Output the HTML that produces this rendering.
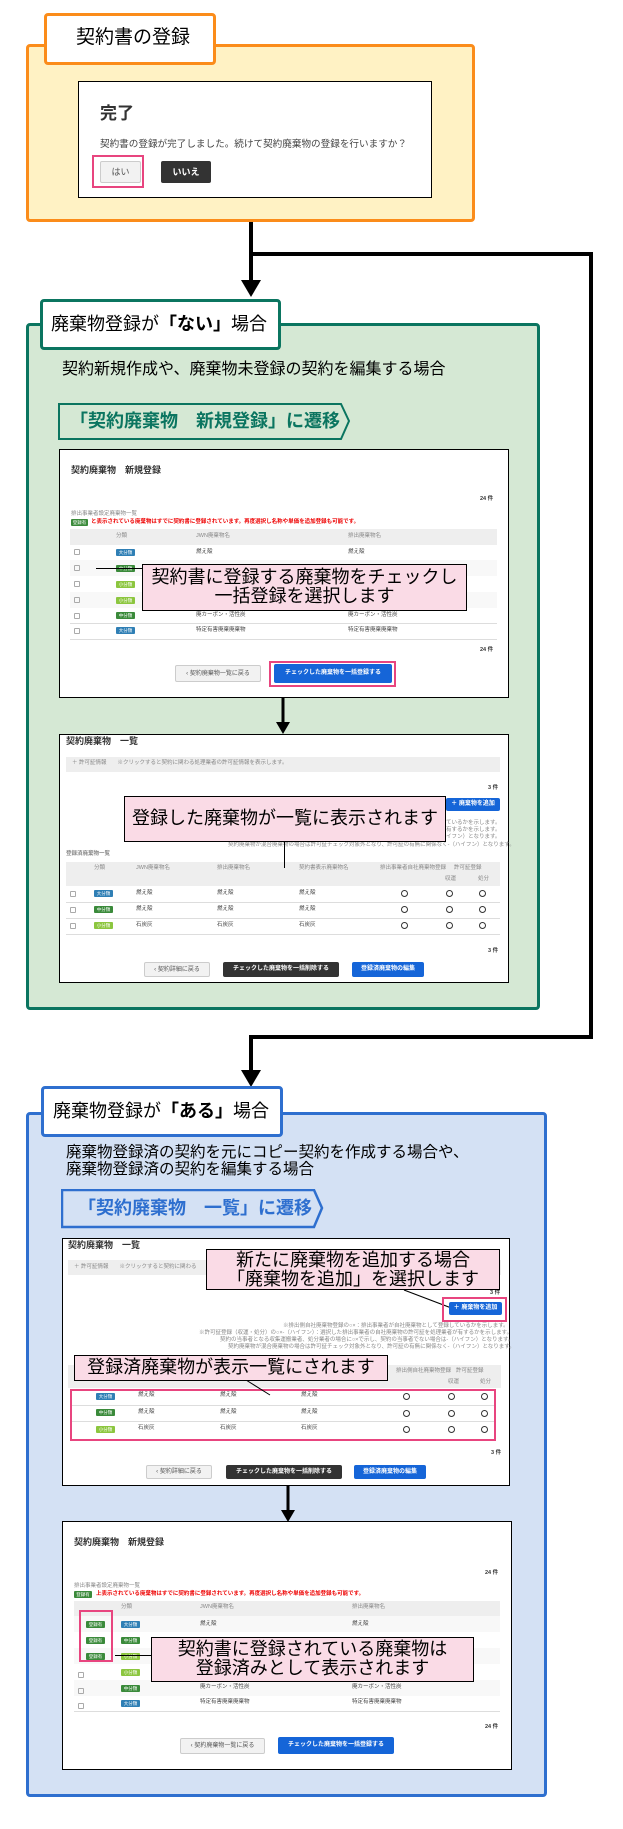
<!DOCTYPE html>
<html><head><meta charset="utf-8"><style>
*{margin:0;padding:0;box-sizing:border-box}
body{width:623px;height:1829px;background:#fff;position:relative;font-family:"Liberation Sans","Noto Sans CJK JP",sans-serif;overflow:hidden}
.a{position:absolute}
.t{position:absolute;white-space:nowrap;line-height:1}
.ss{position:absolute;background:#fff;border:1.5px solid #000}
.bdg{position:absolute;width:19px;height:7px;font-size:4.5px;color:#fff;text-align:center;line-height:7px;border-radius:1px}
.b1{background:#2f7fb5}.b2{background:#3a8a3a}.b3{background:#8cc63f}
.tiny{position:absolute;font-size:5.5px;color:#888;white-space:nowrap;line-height:1}
.call{position:absolute;background:#fadbe6;border:1.5px solid #000;text-align:center;color:#000;line-height:1.2;white-space:nowrap}
.pk{position:absolute;border:2.5px solid #e8457f}
.btnw{position:absolute;background:#f2f2f2;border:1px solid #ccc;border-radius:2px;font-size:6px;color:#555;text-align:center}
.btnb{position:absolute;background:#1565d8;border-radius:2px;font-size:6px;color:#fff;text-align:center;font-weight:bold}
.btnd{position:absolute;background:#333;border-radius:2px;font-size:6px;color:#fff;text-align:center;font-weight:bold}
.ln{position:absolute;background:#000}
.circ{position:absolute;width:7px;height:7px;border:1px solid #333;border-radius:50%}
.cb{position:absolute;width:6px;height:6px;border:1px solid #aaa;border-radius:1px}
</style></head><body>

<!-- connectors -->
<div class="ln" style="left:249px;top:222px;width:4px;height:60px"></div>
<div class="ln" style="left:251px;top:252px;width:342px;height:4px"></div>
<div class="ln" style="left:589px;top:252px;width:4px;height:787px"></div>
<div class="ln" style="left:249px;top:1035px;width:344px;height:4px"></div>
<div class="ln" style="left:249px;top:1035px;width:4px;height:36px"></div>
<svg class="a" style="left:0;top:0" width="623" height="1829">
<polygon points="241,280 261,280 251,297" fill="#000"/>
<polygon points="241,1070 261,1070 251,1087" fill="#000"/>
</svg>

<!-- ORANGE -->
<div class="a" style="left:26px;top:44px;width:449px;height:178px;background:#fff2c4;border:3.5px solid #fb8c1a;border-radius:4px"></div>
<div class="a" style="left:44px;top:13px;width:172px;height:52px;background:#fff;border:3.5px solid #fb8c1a;border-radius:4px"></div>
<div class="t" style="left:76px;top:28px;font-size:19px">契約書の登録</div>
<div class="a" style="left:78px;top:81px;width:354px;height:117px;background:#fff;border:1px solid #000"></div>
<div class="t" style="left:100px;top:105px;font-size:17px;font-weight:bold;color:#333">完了</div>
<div class="t" style="left:100px;top:140px;font-size:9.6px;color:#444">契約書の登録が完了しました。続けて契約廃棄物の登録を行いますか？</div>
<div class="pk" style="left:92px;top:155px;width:52px;height:33px"></div>
<div class="btnw" style="left:100px;top:161px;width:41px;height:22px;font-size:9px;line-height:20px">はい</div>
<div class="btnd" style="left:161px;top:161px;width:50px;height:22px;font-size:9px;line-height:22px">いいえ</div>

<!-- GREEN -->
<div class="a" style="left:26px;top:323px;width:514px;height:687px;background:#d5e8d4;border:3.5px solid #0b7560;border-radius:4px"></div>
<div class="a" style="left:40px;top:299px;width:241px;height:51px;background:#fff;border:3.5px solid #0b7560;border-radius:4px"></div>
<div class="t" style="left:51px;top:315px;font-size:18px">廃棄物登録が<b>「ない」</b>場合</div>
<div class="t" style="left:62px;top:362px;font-size:16px">契約新規作成や、廃棄物未登録の契約を編集する場合</div>
<svg class="a" style="left:58px;top:403px" width="300" height="40"><polygon points="1,1 283,1 291,18 283,36 1,36" fill="none" stroke="#0b7560" stroke-width="2"/></svg>
<div class="t" style="left:70px;top:412px;font-size:18px;font-weight:bold;color:#0b7560">「契約廃棄物　新規登録」に遷移</div>

<!-- SS1 -->
<div class="ss" style="left:59px;top:449px;width:450px;height:249px"></div>
<div class="t" style="left:71px;top:466px;font-size:9px;font-weight:bold;color:#333">契約廃棄物　新規登録</div>
<div class="tiny" style="left:480px;top:497px;color:#333;font-weight:bold">24 件</div>
<div class="tiny" style="left:71px;top:512px">排出事業者設定廃棄物一覧</div>
<div class="bdg b2" style="left:71px;top:519px;width:17px">登録有</div>
<div class="tiny" style="left:91px;top:520px;color:#e00;font-weight:bold">と表示されている廃棄物はすでに契約書に登録されています。再度選択し名称や単価を追加登録も可能です。</div>
<div class="a" style="left:70px;top:529px;width:427px;height:16px;background:#eee"></div>
<div class="tiny" style="left:116px;top:534px">分類</div><div class="tiny" style="left:196px;top:534px">JWN廃棄物名</div><div class="tiny" style="left:348px;top:534px">排出廃棄物名</div>
<div class="a" style="left:70px;top:560px;width:427px;height:16px;background:#f8f8f8"></div>
<div class="a" style="left:70px;top:592px;width:427px;height:16px;background:#f8f8f8"></div>
<div class="a" style="left:70px;top:623px;width:427px;height:1px;background:#ddd"></div>
<div class="a" style="left:70px;top:639px;width:427px;height:1px;background:#ddd"></div>
<div class="cb" style="left:74px;top:549px"></div><div class="cb" style="left:74px;top:565px"></div><div class="cb" style="left:74px;top:581px"></div><div class="cb" style="left:74px;top:597px"></div><div class="cb" style="left:74px;top:613px"></div><div class="cb" style="left:74px;top:628px"></div>
<div class="bdg b1" style="left:116px;top:549px">大分類</div><div class="bdg b2" style="left:116px;top:565px">中分類</div><div class="bdg b3" style="left:116px;top:581px">小分類</div><div class="bdg b3" style="left:116px;top:597px">小分類</div><div class="bdg b2" style="left:116px;top:612px">中分類</div><div class="bdg b1" style="left:116px;top:627px">大分類</div>
<div class="tiny" style="left:196px;top:550px;color:#444">燃え殻</div><div class="tiny" style="left:348px;top:550px;color:#444">燃え殻</div>
<div class="tiny" style="left:196px;top:613px;color:#444">廃カーボン・活性炭</div><div class="tiny" style="left:348px;top:613px;color:#444">廃カーボン・活性炭</div>
<div class="tiny" style="left:196px;top:628px;color:#444">特定有害廃棄廃棄物</div><div class="tiny" style="left:348px;top:628px;color:#444">特定有害廃棄廃棄物</div>
<div class="ln" style="left:96px;top:568px;width:46px;height:1px"></div>
<div class="call" style="left:142px;top:564px;width:325px;height:47px;font-size:18px;padding-top:3px;line-height:19px">契約書に登録する廃棄物をチェックし<br>一括登録を選択します</div>
<div class="tiny" style="left:480px;top:648px;color:#333;font-weight:bold">24 件</div>
<div class="btnw" style="left:175px;top:665px;width:86px;height:17px;line-height:16px">‹ 契約廃棄物一覧に戻る</div>
<div class="pk" style="left:269px;top:661px;width:127px;height:26px"></div>
<div class="btnb" style="left:274px;top:664px;width:118px;height:19px;line-height:19px">チェックした廃棄物を一括登録する</div>

<!-- SS2 -->
<div class="ss" style="left:59px;top:734px;width:450px;height:249px"></div>
<div class="t" style="left:66px;top:737px;font-size:9px;font-weight:bold;color:#333">契約廃棄物　一覧</div>
<div class="a" style="left:66px;top:757px;width:434px;height:15px;background:#eee"></div>
<div class="tiny" style="left:72px;top:761px">＋ 許可証情報　　※クリックすると契約に関わる処理業者の許可証情報を表示します。</div>
<div class="tiny" style="left:488px;top:786px;color:#333;font-weight:bold">3 件</div>
<div class="btnb" style="left:446px;top:798px;width:54px;height:13px;line-height:13px">＋ 廃棄物を追加</div>
<div class="tiny" style="left:446px;top:821px">ているかを示します。</div>
<div class="tiny" style="left:446px;top:828px">有するかを示します。</div>
<div class="tiny" style="left:446px;top:835px">イフン）となります。</div>
<div class="tiny" style="left:228px;top:843px">契約廃棄物が混合廃棄物の場合は許可証チェック対象外となり、許可証の有無に関係なく-（ハイフン）となります。</div>
<div class="tiny" style="left:66px;top:852px;font-weight:bold">登録済廃棄物一覧</div>
<div class="a" style="left:66px;top:862px;width:434px;height:24px;background:#eee"></div>
<div class="tiny" style="left:94px;top:866px">分類</div><div class="tiny" style="left:136px;top:866px">JWN廃棄物名</div><div class="tiny" style="left:217px;top:866px">排出廃棄物名</div><div class="tiny" style="left:299px;top:866px">契約書表示廃棄物名</div><div class="tiny" style="left:380px;top:866px">排出事業者自社廃棄物登録</div><div class="tiny" style="left:454px;top:866px">許可証登録</div><div class="tiny" style="left:445px;top:877px">収運</div><div class="tiny" style="left:478px;top:877px">処分</div>
<div class="a" style="left:66px;top:902px;width:434px;height:1px;background:#ddd"></div><div class="a" style="left:66px;top:918px;width:434px;height:1px;background:#ddd"></div><div class="a" style="left:66px;top:934px;width:434px;height:1px;background:#ddd"></div>
<div class="cb" style="left:70px;top:891px"></div><div class="cb" style="left:70px;top:907px"></div><div class="cb" style="left:70px;top:923px"></div>
<div class="bdg b1" style="left:94px;top:890px">大分類</div><div class="bdg b2" style="left:94px;top:906px">中分類</div><div class="bdg b3" style="left:94px;top:922px">小分類</div>
<div class="tiny" style="left:136px;top:891px;color:#444">燃え殻</div><div class="tiny" style="left:217px;top:891px;color:#444">燃え殻</div><div class="tiny" style="left:299px;top:891px;color:#444">燃え殻</div>
<div class="tiny" style="left:136px;top:907px;color:#444">燃え殻</div><div class="tiny" style="left:217px;top:907px;color:#444">燃え殻</div><div class="tiny" style="left:299px;top:907px;color:#444">燃え殻</div>
<div class="tiny" style="left:136px;top:923px;color:#444">石炭灰</div><div class="tiny" style="left:217px;top:923px;color:#444">石炭灰</div><div class="tiny" style="left:299px;top:923px;color:#444">石炭灰</div>
<div class="circ" style="left:401px;top:890px"></div><div class="circ" style="left:446px;top:890px"></div><div class="circ" style="left:479px;top:890px"></div>
<div class="circ" style="left:401px;top:906px"></div><div class="circ" style="left:446px;top:906px"></div><div class="circ" style="left:479px;top:906px"></div>
<div class="circ" style="left:401px;top:922px"></div><div class="circ" style="left:446px;top:922px"></div><div class="circ" style="left:479px;top:922px"></div>
<div class="ln" style="left:284px;top:842px;width:1px;height:26px"></div>
<div class="call" style="left:124px;top:796px;width:322px;height:46px;font-size:18px;line-height:42px">登録した廃棄物が一覧に表示されます</div>
<div class="tiny" style="left:488px;top:949px;color:#333;font-weight:bold">3 件</div>
<div class="btnw" style="left:144px;top:962px;width:66px;height:15px;line-height:14px">‹ 契約詳細に戻る</div>
<div class="btnd" style="left:223px;top:962px;width:116px;height:15px;line-height:15px">チェックした廃棄物を一括削除する</div>
<div class="btnb" style="left:352px;top:962px;width:72px;height:15px;line-height:15px">登録済廃棄物の編集</div>

<!-- BLUE -->
<div class="a" style="left:26px;top:1112px;width:521px;height:685px;background:#d4e1f4;border:3.5px solid #2e6fcf;border-radius:4px"></div>
<div class="a" style="left:41px;top:1086px;width:242px;height:51px;background:#fff;border:3.5px solid #2e6fcf;border-radius:4px"></div>
<div class="t" style="left:53px;top:1102px;font-size:18px">廃棄物登録が<b>「ある」</b>場合</div>
<div class="t" style="left:66px;top:1144px;font-size:15.5px;line-height:17px">廃棄物登録済の契約を元にコピー契約を作成する場合や、<br>廃棄物登録済の契約を編集する場合</div>
<svg class="a" style="left:61px;top:1189px" width="275" height="42"><polygon points="1,1 253,1 261,19 253,38 1,38" fill="none" stroke="#2e6fcf" stroke-width="2.5"/></svg>
<div class="t" style="left:78px;top:1199px;font-size:18px;font-weight:bold;color:#2e6fcf">「契約廃棄物　一覧」に遷移</div>

<!-- SS3 -->
<div class="ss" style="left:62px;top:1238px;width:448px;height:248px"></div>
<div class="t" style="left:68px;top:1241px;font-size:9px;font-weight:bold;color:#333">契約廃棄物　一覧</div>
<div class="a" style="left:68px;top:1260px;width:433px;height:15px;background:#eee"></div>
<div class="tiny" style="left:74px;top:1265px">＋ 許可証情報　　※クリックすると契約に関わる</div>
<div class="tiny" style="left:490px;top:1291px;color:#333;font-weight:bold">3 件</div>
<div class="tiny" style="left:283px;top:1324px">※排出側自社廃棄物登録の○×：排出事業者が自社廃棄物として登録しているかを示します。</div>
<div class="tiny" style="left:199px;top:1331px">※許可証登録（収運・処分）の○×-（ハイフン）：選択した排出事業者の自社廃棄物の許可証を処理業者が有するかを示します。</div>
<div class="tiny" style="left:220px;top:1338px">契約の当事者となる収集運搬業者、処分業者の場合に○×で示し、契約の当事者でない場合は-（ハイフン）となります。</div>
<div class="tiny" style="left:228px;top:1345px">契約廃棄物が混合廃棄物の場合は許可証チェック対象外となり、許可証の有無に関係なく-（ハイフン）となります。</div>
<div class="a" style="left:68px;top:1365px;width:433px;height:23px;background:#eee"></div>
<div class="tiny" style="left:396px;top:1369px">排出側自社廃棄物登録</div><div class="tiny" style="left:456px;top:1369px">許可証登録</div><div class="tiny" style="left:448px;top:1380px">収運</div><div class="tiny" style="left:480px;top:1380px">処分</div>
<div class="a" style="left:70px;top:1405px;width:425px;height:1px;background:#ddd"></div><div class="a" style="left:70px;top:1421px;width:425px;height:1px;background:#ddd"></div>
<div class="bdg b1" style="left:96px;top:1393px">大分類</div><div class="bdg b2" style="left:96px;top:1409px">中分類</div><div class="bdg b3" style="left:96px;top:1426px">小分類</div>
<div class="tiny" style="left:138px;top:1393px;color:#444">燃え殻</div><div class="tiny" style="left:220px;top:1393px;color:#444">燃え殻</div><div class="tiny" style="left:301px;top:1393px;color:#444">燃え殻</div>
<div class="tiny" style="left:138px;top:1410px;color:#444">燃え殻</div><div class="tiny" style="left:220px;top:1410px;color:#444">燃え殻</div><div class="tiny" style="left:301px;top:1410px;color:#444">燃え殻</div>
<div class="tiny" style="left:138px;top:1426px;color:#444">石炭灰</div><div class="tiny" style="left:220px;top:1426px;color:#444">石炭灰</div><div class="tiny" style="left:301px;top:1426px;color:#444">石炭灰</div>
<div class="circ" style="left:403px;top:1393px"></div><div class="circ" style="left:448px;top:1393px"></div><div class="circ" style="left:481px;top:1393px"></div>
<div class="circ" style="left:403px;top:1410px"></div><div class="circ" style="left:448px;top:1410px"></div><div class="circ" style="left:481px;top:1410px"></div>
<div class="circ" style="left:403px;top:1426px"></div><div class="circ" style="left:448px;top:1426px"></div><div class="circ" style="left:481px;top:1426px"></div>
<div class="pk" style="left:70px;top:1389px;width:426px;height:52px"></div>
<svg class="a" style="left:0;top:0" width="623" height="1829"><line x1="404" y1="1290" x2="454" y2="1309" stroke="#000" stroke-width="1.2"/><line x1="246" y1="1380" x2="270" y2="1395" stroke="#000" stroke-width="1"/></svg>
<div class="pk" style="left:442px;top:1297px;width:65px;height:25px"></div>
<div class="btnb" style="left:449px;top:1302px;width:53px;height:13px;line-height:13px">＋ 廃棄物を追加</div>
<div class="call" style="left:206px;top:1249px;width:294px;height:41px;font-size:18px;padding-top:1px;line-height:19px">新たに廃棄物を追加する場合<br>「廃棄物を追加」を選択します</div>
<div class="call" style="left:74px;top:1355px;width:314px;height:26px;font-size:18px;line-height:23px">登録済廃棄物が表示一覧にされます</div>
<div class="tiny" style="left:491px;top:1451px;color:#333;font-weight:bold">3 件</div>
<div class="btnw" style="left:146px;top:1465px;width:66px;height:14px;line-height:13px">‹ 契約詳細に戻る</div>
<div class="btnd" style="left:226px;top:1465px;width:116px;height:14px;line-height:14px">チェックした廃棄物を一括削除する</div>
<div class="btnb" style="left:354px;top:1465px;width:72px;height:14px;line-height:14px">登録済廃棄物の編集</div>

<!-- SS4 -->
<div class="ss" style="left:62px;top:1521px;width:450px;height:249px"></div>
<div class="t" style="left:74px;top:1538px;font-size:9px;font-weight:bold;color:#333">契約廃棄物　新規登録</div>
<div class="tiny" style="left:485px;top:1571px;color:#333;font-weight:bold">24 件</div>
<div class="tiny" style="left:74px;top:1584px">排出事業者設定廃棄物一覧</div>
<div class="bdg b2" style="left:74px;top:1591px;width:18px">登録有</div>
<div class="tiny" style="left:96px;top:1592px;color:#e00;font-weight:bold">上表示されている廃棄物はすでに契約書に登録されています。再度選択し名称や単価を追加登録も可能です。</div>
<div class="a" style="left:74px;top:1601px;width:426px;height:15px;background:#eee"></div>
<div class="tiny" style="left:121px;top:1605px">分類</div><div class="tiny" style="left:200px;top:1605px">JWN廃棄物名</div><div class="tiny" style="left:352px;top:1605px">排出廃棄物名</div>
<div class="a" style="left:74px;top:1616px;width:426px;height:16px;background:#f8f8f8"></div>
<div class="a" style="left:74px;top:1648px;width:426px;height:16px;background:#f8f8f8"></div>
<div class="a" style="left:74px;top:1680px;width:426px;height:16px;background:#f8f8f8"></div>
<div class="a" style="left:74px;top:1711px;width:426px;height:1px;background:#ddd"></div>
<div class="cb" style="left:78px;top:1672px"></div><div class="cb" style="left:78px;top:1688px"></div><div class="cb" style="left:78px;top:1703px"></div>
<div class="bdg b2" style="left:86px;top:1621px">登録有</div><div class="bdg b2" style="left:86px;top:1637px">登録有</div><div class="bdg b2" style="left:86px;top:1653px">登録有</div>
<div class="bdg b1" style="left:121px;top:1621px">大分類</div><div class="bdg b2" style="left:121px;top:1637px">中分類</div><div class="bdg b3" style="left:121px;top:1653px">小分類</div><div class="bdg b3" style="left:121px;top:1669px">小分類</div><div class="bdg b2" style="left:121px;top:1685px">中分類</div><div class="bdg b1" style="left:121px;top:1700px">大分類</div>
<div class="tiny" style="left:200px;top:1622px;color:#444">燃え殻</div><div class="tiny" style="left:352px;top:1622px;color:#444">燃え殻</div>
<div class="tiny" style="left:200px;top:1685px;color:#444">廃カーボン・活性炭</div><div class="tiny" style="left:352px;top:1685px;color:#444">廃カーボン・活性炭</div>
<div class="tiny" style="left:200px;top:1700px;color:#444">特定有害廃棄廃棄物</div><div class="tiny" style="left:352px;top:1700px;color:#444">特定有害廃棄廃棄物</div>
<div class="pk" style="left:79px;top:1610px;width:34px;height:52px"></div>
<div class="ln" style="left:115px;top:1655px;width:36px;height:1px"></div>
<div class="call" style="left:151px;top:1637px;width:323px;height:45px;font-size:18px;padding-top:2px;line-height:19px">契約書に登録されている廃棄物は<br>登録済みとして表示されます</div>
<div class="tiny" style="left:485px;top:1725px;color:#333;font-weight:bold">24 件</div>
<div class="btnw" style="left:180px;top:1738px;width:85px;height:16px;line-height:15px">‹ 契約廃棄物一覧に戻る</div>
<div class="btnb" style="left:278px;top:1737px;width:116px;height:17px;line-height:17px">チェックした廃棄物を一括登録する</div>

<!-- inner arrows on top -->
<svg class="a" style="left:0;top:0" width="623" height="1829">
<line x1="283" y1="698" x2="283" y2="726" stroke="#000" stroke-width="3"/>
<polygon points="276,722 290,722 283,734" fill="#000"/>
<line x1="288" y1="1486" x2="288" y2="1514" stroke="#000" stroke-width="3"/>
<polygon points="281,1510 295,1510 288,1522" fill="#000"/>
</svg>

</body></html>
